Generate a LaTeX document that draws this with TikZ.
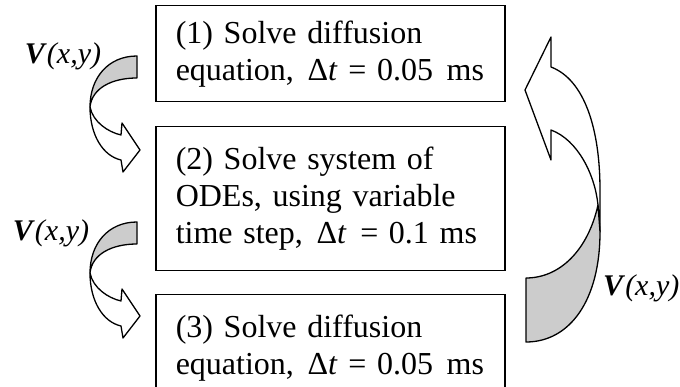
\documentclass[tikz,border=0pt]{standalone}
\usepackage{fontspec}
\setmainfont{Liberation Serif}
\usetikzlibrary{positioning}

\definecolor{backgrey}{RGB}{204,204,204}
\tikzset{
  stepbox/.style={draw, line width=1.5pt, anchor=north west, text width=309pt,
    inner xsep=20pt, inner ysep=0pt, align=left, font=\fontsize{32}{37}\selectfont},
  vlabel/.style={inner sep=0pt, font=\fontsize{30}{36}\selectfont},
  ribbon/.style={draw, line width=1.3pt, line join=round},
}
\newcommand{\vxy}{\textbf{\textit{V}}\textit{(x,y)}}
\newcommand{\wsp}{\ \hspace{3pt}}

\begin{document}
\begin{tikzpicture}[x=1pt, y=-1pt]
\useasboundingbox (0,0) rectangle (680,387);

% the three steps
\node[stepbox, minimum height=96pt] (solve1) at (155,5)
  {\mbox{(1) Solve diffusion}\\\mbox{equation,\wsp Δ\textit{t} = 0.05\wsp ms}};
\node[stepbox, minimum height=144pt] (solve2) at (155,126)
  {\mbox{(2) Solve system of}\\\mbox{ODEs, using variable}\\\mbox{time step,\wsp Δ\textit{t}\wsp = 0.1 ms}};
\node[stepbox, minimum height=106pt] (solve3) at (155,294)
  {\mbox{(3) Solve diffusion}\\\mbox{equation,\wsp Δ\textit{t} = 0.05\wsp ms}};

% V(x,y) handed down
\foreach \dy in {0,166} {
  \begin{scope}[shift={(0,\dy)}]
    \filldraw[ribbon, fill=white] (90,107) .. controls (93,122) and (108,132) .. (121,135)
      -- (122,123) -- (140,150) -- (123,172) -- (121,160)
      .. controls (103,156) and (90,135) .. (90,107) -- cycle;
    \filldraw[ribbon, fill=backgrey] (137,56) .. controls (108,56) and (90,78) .. (90,107)
      .. controls (92,88) and (112,78) .. (137,78) -- cycle;
  \end{scope}
}
\node[vlabel] (vin1) at (63,56) {\vxy};
\node[vlabel] (vin2) at (51,233) {\vxy};

% V(x,y) handed back
\filldraw[ribbon, fill=white] (551,67) -- (551,37) -- (525,90) -- (551,160) -- (551,130)
  .. controls (578,140) and (595,175) .. (598,205) -- (600,232) -- (600,190)
  .. controls (600,130) and (585,80) .. (551,67) -- cycle;
\filldraw[ribbon, fill=backgrey] (526,278) -- (526,342)
  .. controls (570,342) and (600,300) .. (600,232) -- (598,205)
  .. controls (588,250) and (560,278) .. (526,278) -- cycle;
\node[vlabel, anchor=west] (vback) at (603,288) {\vxy};
\end{tikzpicture}
\end{document}
